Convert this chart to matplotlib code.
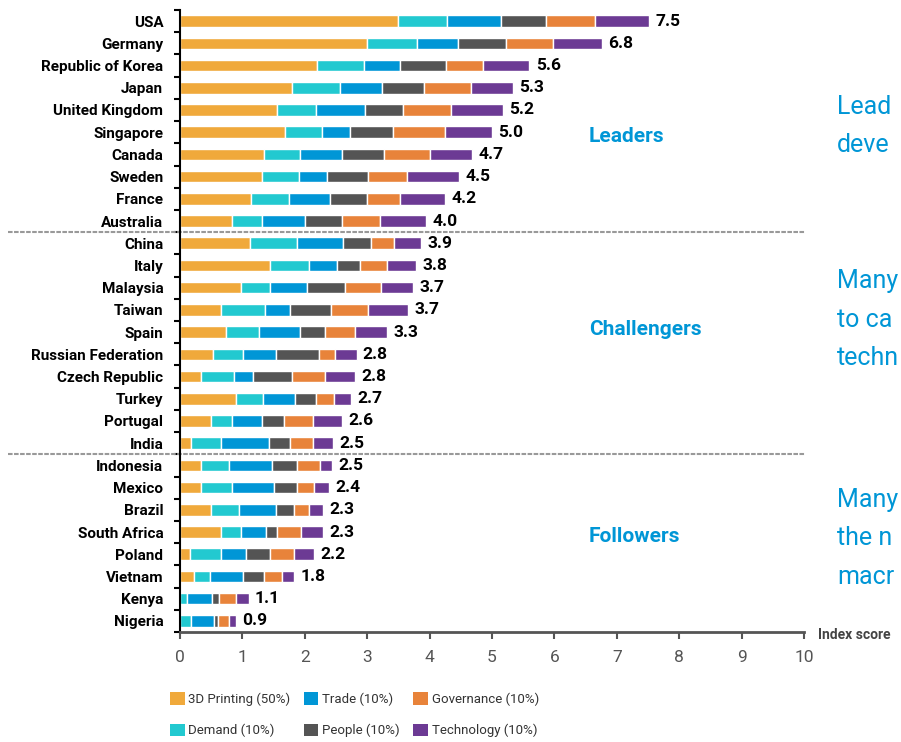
import matplotlib
matplotlib.use("Agg")
import matplotlib.pyplot as plt
from matplotlib.patches import Patch
import numpy as np

# country list, top to bottom
countries = ["USA", "Germany", "Republic of Korea", "Japan", "United Kingdom",
             "Singapore", "Canada", "Sweden", "France", "Australia",
             "China", "Italy", "Malaysia", "Taiwan", "Spain",
             "Russian Federation", "Czech Republic", "Turkey", "Portugal", "India",
             "Indonesia", "Mexico", "Brazil", "South Africa", "Poland",
             "Vietnam", "Kenya", "Nigeria"]

totals = [7.5, 6.8, 5.6, 5.3, 5.2, 5.0, 4.7, 4.5, 4.2, 4.0,
          3.9, 3.8, 3.7, 3.7, 3.3, 2.8, 2.8, 2.7, 2.6, 2.5,
          2.5, 2.4, 2.3, 2.3, 2.2, 1.8, 1.1, 0.9]

printing3d = [3.49, 3.00, 2.20, 1.80, 1.55, 1.69, 1.35, 1.31, 1.13, 0.84,
              1.12, 1.45, 0.97, 0.66, 0.73, 0.53, 0.33, 0.90, 0.50, 0.17,
              0.33, 0.33, 0.49, 0.66, 0.16, 0.23, 0.00, 0.00]
demand = [0.79, 0.80, 0.75, 0.77, 0.63, 0.59, 0.58, 0.60, 0.62, 0.47,
          0.76, 0.61, 0.47, 0.71, 0.53, 0.48, 0.53, 0.43, 0.33, 0.49,
          0.46, 0.51, 0.45, 0.32, 0.49, 0.25, 0.11, 0.17]
trade = [0.87, 0.66, 0.58, 0.67, 0.78, 0.44, 0.66, 0.45, 0.65, 0.70,
         0.74, 0.45, 0.60, 0.39, 0.67, 0.53, 0.31, 0.52, 0.48, 0.76,
         0.69, 0.67, 0.60, 0.40, 0.41, 0.53, 0.40, 0.37]
people = [0.72, 0.77, 0.74, 0.67, 0.62, 0.69, 0.68, 0.66, 0.59, 0.59,
          0.44, 0.38, 0.60, 0.66, 0.40, 0.68, 0.63, 0.33, 0.35, 0.34,
          0.40, 0.37, 0.29, 0.18, 0.39, 0.33, 0.11, 0.07]
governance = [0.78, 0.74, 0.59, 0.75, 0.77, 0.83, 0.73, 0.61, 0.54, 0.61,
              0.37, 0.42, 0.58, 0.60, 0.47, 0.26, 0.52, 0.29, 0.47, 0.37,
              0.36, 0.27, 0.23, 0.38, 0.38, 0.29, 0.27, 0.17]
technology = [0.87, 0.79, 0.74, 0.67, 0.82, 0.76, 0.68, 0.84, 0.72, 0.73,
              0.44, 0.47, 0.52, 0.63, 0.52, 0.35, 0.49, 0.27, 0.47, 0.32,
              0.20, 0.24, 0.23, 0.35, 0.32, 0.20, 0.21, 0.12]

series = [printing3d, demand, trade, people, governance, technology]
series_names = ["3D Printing (50%)", "Demand (10%)", "Trade (10%)",
                "People (10%)", "Governance (10%)", "Technology (10%)"]
colors = ["#F0A93B", "#22C9D0", "#0096D6", "#545454", "#E8833A", "#6C3A94"]

groups = ["Leaders", "Challengers", "Followers"]
group_pos = [5.2, 13.9, 23.2]
group_breaks = [9.5, 19.5]

# side notes, only the part visible at the picture's right edge
side_text = [["Lead", "deve"],
             ["Many", "to ca", "techn"],
             ["Many", "the n", "macr"]]
side_y = [[107, 145], [281, 320, 358], [500, 538, 577]]

font = ["Roboto", "DejaVu Sans"]
blue = "#0096D6"

fig = plt.figure(figsize=(9.01, 7.42), dpi=100)
ax = fig.add_axes([180 / 901, 1 - 632 / 742, 624 / 901, 622 / 742])

y = np.arange(len(countries))
left = np.zeros(len(countries))
for vals, c in zip(series, colors):
    ax.barh(y, vals, left=left, height=0.52, color=c, edgecolor="white", linewidth=1)
    left = left + np.array(vals)

for yi, end, t in zip(y, left, totals):
    ax.annotate(f"{t:.1f}", (end, yi), xytext=(4.5, 0), textcoords="offset points",
                va="center", ha="left", fontsize=12.5, fontweight="bold",
                family=font, color="black")

ax.set_xlim(0, 10)
ax.set_ylim(len(countries) - 0.5, -0.5)
ax.set_yticks(y)
ax.set_yticklabels(countries, family=font, fontweight="bold", fontsize=11)
ax.set_yticks(np.arange(len(countries) + 1) - 0.5, minor=True)
ax.tick_params(axis="y", which="major", length=0, pad=12)
ax.tick_params(axis="y", which="minor", length=4, width=1.5, color="black", direction="out")
ax.set_xticks(range(0, 11))
ax.tick_params(axis="x", length=5, width=1.5, color="#555555", pad=8,
               labelsize=12.5, labelcolor="#555555")
for lab in ax.get_xticklabels():
    lab.set_family(font)

for s in ["top", "right"]:
    ax.spines[s].set_visible(False)
ax.spines["left"].set_linewidth(1.5)
ax.spines["left"].set_color("black")
ax.spines["bottom"].set_linewidth(2)
ax.spines["bottom"].set_color("#555555")

for b in group_breaks:
    ax.axhline(b, xmin=-0.276, xmax=1.002, clip_on=False, color="#999999",
               lw=1.5, ls=(0, (2.2, 0.7)))

for g, gy in zip(groups, group_pos):
    ax.text(6.55, gy, g, color=blue, fontsize=15, fontweight="bold",
            family=font, va="center", ha="left")

ax.text(1.022, -0.005, "Index score", transform=ax.transAxes, fontsize=10,
        fontweight="bold", family=font, color="#444444", va="center", ha="left")

for lines, ys in zip(side_text, side_y):
    for line, ly in zip(lines, ys):
        fig.text(837 / 901, 1 - ly / 742, line, color=blue, fontsize=18,
                 family=font, va="center", ha="left")

handles = [Patch(facecolor=c, edgecolor="none") for c in colors]
leg = fig.legend(handles, series_names, loc="upper left",
                 bbox_to_anchor=(170 / 901, 1 - 692 / 742), ncol=3, frameon=False,
                 prop={"family": font, "size": 9.5}, handlelength=1.1,
                 handleheight=1.1, handletextpad=0.3, columnspacing=1.0,
                 labelspacing=1.35, borderpad=0, borderaxespad=0)
for t in leg.get_texts():
    t.set_color("#333333")

fig.savefig("out.png", dpi=100)
